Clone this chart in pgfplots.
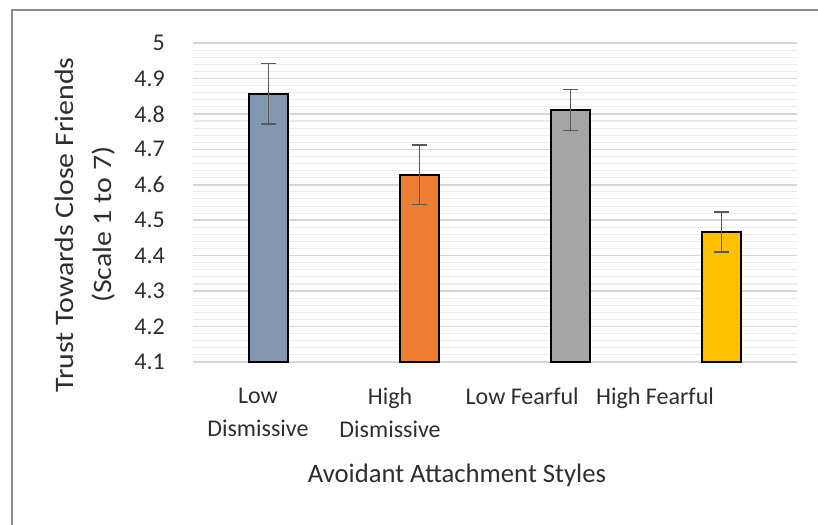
\documentclass[border=0pt]{standalone}
\usepackage{fontspec}
\setmainfont{Carlito}
\usepackage{pgfplots}
\pgfplotsset{compat=1.18}
\definecolor{bluegray}{HTML}{8497B0}
\definecolor{xorange}{HTML}{ED7D31}
\definecolor{xgray}{HTML}{A5A5A5}
\definecolor{xgold}{HTML}{FFC000}
\definecolor{txt}{HTML}{2E2E2E}
\definecolor{gridmaj}{HTML}{D6D6D6}
\definecolor{gridmin}{HTML}{EBEBEB}
\definecolor{errc}{HTML}{595959}

\begin{document}
\begin{tikzpicture}
% page = 818x525 px at 0.75pt per px, origin at the lower left of the plot area
\useasboundingbox (-144.75pt,-122.25pt) rectangle (468.75pt,271.5pt);
\draw[color=gray!90, line width=1.8pt] (-135.75pt,-140pt) -- (-135.75pt,264pt) -- (480pt,264pt);
\begin{axis}[
    at={(0,0)}, anchor=south west,
    scale only axis,
    width=453pt, height=239.25pt,
    xmin=-0.5, xmax=3.5,
    ymin=4.1, ymax=5,
    ytick={4.1,4.2,...,5.01},
    yticklabels={4.1,4.2,4.3,4.4,4.5,4.6,4.7,4.8,4.9,5},
    minor y tick num=4,
    ymajorgrids, yminorgrids,
    major grid style={draw=gridmaj, line width=1.1pt},
    minor grid style={draw=gridmin, line width=0.8pt},
    major tick length=0pt, minor tick length=0pt,
    axis line style={draw=none},
    xtick={-0.07,0.805,1.68,2.56},
    xticklabels={{Low\\Dismissive},{High\\Dismissive},{Low Fearful},{High Fearful}},
    /pgf/number format/assume math mode=true,
    yticklabel style={font=\fontsize{18}{22}\selectfont, text=txt, anchor=east, inner sep=0pt, xshift=-21pt},
    xticklabel style={font=\fontsize{18}{24.75}\selectfont, text=txt, align=center, anchor=north, inner sep=0pt, yshift=-19pt},
    xlabel={Avoidant Attachment Styles},
    xlabel style={font=\fontsize{20}{24}\selectfont, text=txt, at={(axis description cs:0.437,-0.357)}, anchor=center},
    ylabel={\scalebox{1.12}[1]{\begin{tabular}{@{}c@{}}Trust Towards Close Friends\\[5pt](Scale 1 to 7)\end{tabular}}},
    ylabel style={font=\fontsize{20}{24}\selectfont, text=txt, at={(axis description cs:-0.177,0.43)}, anchor=center, rotate=0},
    ybar, bar width=29.25pt, bar shift=0pt,
    error bars/error bar style={draw=errc, line width=1.2pt},
    error bars/error mark options={draw=errc, line width=1.2pt, rotate=90, mark size=5.5pt},
]
\addplot[fill=bluegray, draw=black, line width=1.4pt,
    error bars/.cd, y dir=both, y explicit]
    coordinates {(0,4.857) +- (0,0.085)};
\addplot[fill=xorange, draw=black, line width=1.4pt,
    error bars/.cd, y dir=both, y explicit]
    coordinates {(1,4.628) +- (0,0.084)};
\addplot[fill=xgray, draw=black, line width=1.4pt,
    error bars/.cd, y dir=both, y explicit]
    coordinates {(2,4.811) +- (0,0.058)};
\addplot[fill=xgold, draw=black, line width=1.4pt,
    error bars/.cd, y dir=both, y explicit]
    coordinates {(3,4.467) +- (0,0.057)};
\end{axis}
\end{tikzpicture}
\end{document}
